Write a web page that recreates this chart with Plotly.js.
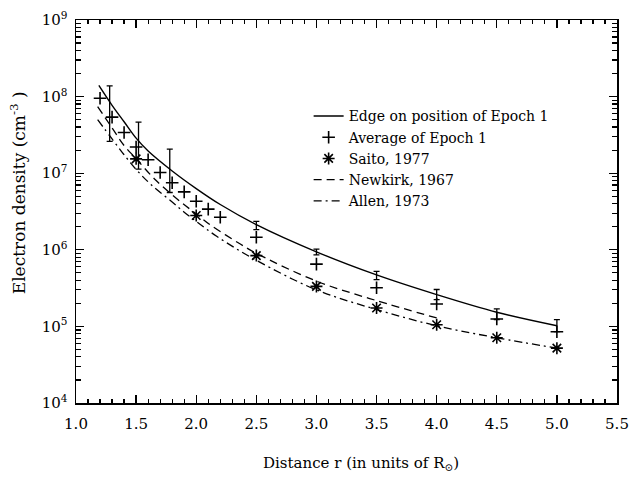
<!DOCTYPE html>
<html>
<head>
<meta charset="utf-8">
<script src="https://cdn.plot.ly/plotly-3.0.1.min.js"></script>
<style>html,body{margin:0;padding:0;background:#fff;}#chart{width:629px;height:478px;}</style>
</head>
<body>
<div id="chart"></div>
<script>
// Edge-on curve (solid line)
const rEdge = [1.19, 1.3, 1.4, 1.5, 1.6, 1.8, 2.0, 2.2, 2.5, 3.0, 3.5, 4.0, 4.5, 5.0];
const edgeDensity = [1.4e8, 7.7e7, 4.7e7, 2.87e7, 1.95e7, 1.07e7, 6.3e6, 3.9e6, 2.13e6, 9.4e5, 4.7e5, 2.6e5, 1.53e5, 1.02e5];
// Error bars on edge-on values
const rErr = [1.28, 1.52, 1.78, 2.5, 3.0, 3.5, 4.0, 4.5, 5.0];
const errCenter = [8.2e7, 2.88e7, 1.31e7, 2.09e6, 9.4e5, 4.65e5, 2.63e5, 1.46e5, 1.04e5];
const errSize = [5.6e7, 1.75e7, 7.5e6, 2.6e5, 8e4, 5.8e4, 4e4, 2.3e4, 1.85e4];
// Average of Epoch 1 (+)
const rAvg = [1.2, 1.3, 1.4, 1.5, 1.6, 1.7, 1.8, 1.9, 2.0, 2.1, 2.2, 2.5, 3.0, 3.5, 4.0, 4.5, 5.0];
const avgDensity = [9.5e7, 5.4e7, 3.4e7, 2.2e7, 1.5e7, 1.02e7, 7.5e6, 5.7e6, 4.3e6, 3.4e6, 2.66e6, 1.46e6, 6.5e5, 3.2e5, 1.96e5, 1.25e5, 8.5e4];
// Saito, 1977 (*)
const rSaito = [1.5, 2.0, 2.5, 3.0, 3.5, 4.0, 4.5, 5.0];
const saitoDensity = [1.54e7, 2.8e6, 8.4e5, 3.33e5, 1.74e5, 1.05e5, 7.1e4, 5.2e4];
// Newkirk, 1967 (dashed)
const rNewkirk = [1.18, 1.3, 1.4, 1.5, 1.66, 1.88, 2.0, 2.12, 2.37, 2.5, 3.0, 3.5, 4.0];
const newkirkDensity = [7.4e7, 3.9e7, 2.3e7, 1.55e7, 8.2e6, 4.1e6, 2.95e6, 2.1e6, 1.18e6, 9.0e5, 3.9e5, 2.17e5, 1.29e5];
// Allen, 1973 (dash-dot)
const rAllen = [1.18, 1.3, 1.4, 1.5, 1.62, 1.8, 1.9, 2.0, 2.17, 2.5, 3.0, 3.5, 4.0, 4.5, 5.0];
const allenDensity = [5.0e7, 2.8e7, 1.74e7, 1.12e7, 7.2e6, 4.2e6, 3.1e6, 2.35e6, 1.5e6, 7.3e5, 3.0e5, 1.66e5, 1.02e5, 7.1e4, 5.2e4];

// y tick values and labels
const yTickVals = [1e4, 1e5, 1e6, 1e7, 1e8, 1e9];
const yTickText = ['10<sup>4</sup>', '10<sup>5</sup>', '10<sup>6</sup>', '10<sup>7</sup>', '10<sup>8</sup>', '10<sup>9</sup>'];
// minor tick positions on the log axis (2..9 times each decade)
const yMinorTicks = [];
for (let e = 4; e < 9; e++) for (let m = 2; m <= 9; m++) yMinorTicks.push(m * Math.pow(10, e));

const FONT = 'DejaVu Serif, serif';

const traces = [
  {x: rEdge, y: edgeDensity, mode: 'lines', name: 'Edge on position of Epoch 1',
   line: {color: '#000', width: 1.4, shape: 'spline'}},
  {x: rAvg, y: avgDensity, mode: 'markers', name: 'Average of Epoch 1',
   marker: {symbol: 'cross-thin-open', size: 9, color: '#000', line: {color: '#000', width: 1.6}}},
  {x: rSaito, y: saitoDensity, mode: 'markers', name: 'Saito, 1977',
   marker: {symbol: 'asterisk-open', size: 10, color: '#000', line: {color: '#000', width: 1.6}}},
  {x: rNewkirk, y: newkirkDensity, mode: 'lines', name: 'Newkirk, 1967',
   line: {color: '#000', width: 1.3, dash: '8px,5px', shape: 'spline'}},
  {x: rAllen, y: allenDensity, mode: 'lines', name: 'Allen, 1973',
   line: {color: '#000', width: 1.3, dash: '8px,4px,2px,4px', shape: 'spline'}},
  {x: rErr, y: errCenter, mode: 'markers', showlegend: false, hoverinfo: 'skip',
   marker: {size: 1, color: 'rgba(0,0,0,0)'},
   error_y: {type: 'data', array: errSize, visible: true, color: '#000', thickness: 1.3, width: 3}}
];

const layout = {
  width: 629, height: 478,
  margin: {l: 76, r: 12, t: 20, b: 75},
  paper_bgcolor: '#fff', plot_bgcolor: '#fff',
  font: {family: FONT, size: 14, color: '#000'},
  showlegend: true,
  legend: {x: 0.43, y: 0.79, xanchor: 'left', yanchor: 'top', bgcolor: 'rgba(0,0,0,0)',
           font: {family: FONT, size: 14, color: '#000'}, tracegroupgap: 0},
  xaxis: {range: [1.0, 5.5], dtick: 0.5, tick0: 1.0, tickformat: '.1f',
          showgrid: false, zeroline: false, showline: true, linecolor: '#000', linewidth: 1.5,
          mirror: 'ticks', ticks: 'inside', ticklen: 8, tickwidth: 1.3, tickcolor: '#000',
          ticklabelstandoff: 6,
          minor: {tickmode: 'linear', tick0: 1.0, dtick: 0.1, ticks: 'inside', ticklen: 4, tickwidth: 1.2, tickcolor: '#000', showgrid: false},
          tickfont: {family: FONT, size: 15, color: '#000'}},
  yaxis: {type: 'log', range: [4, 9], tickmode: 'array', tickvals: yTickVals, ticktext: yTickText,
          showgrid: false, zeroline: false, showline: true, linecolor: '#000', linewidth: 1.5,
          mirror: 'ticks', ticks: 'inside', ticklen: 8, tickwidth: 1.3, tickcolor: '#000',
          ticklabelstandoff: 4,
          minor: {tickmode: 'array', tickvals: yMinorTicks, ticks: 'inside', ticklen: 5, tickwidth: 1.2, tickcolor: '#000', showgrid: false},
          tickfont: {family: FONT, size: 15, color: '#000'}},
  annotations: [
    {text: 'Distance r (in units of R<sub>⊙</sub>)', xref: 'paper', yref: 'paper', x: 0.5276, y: -0.159,
     xanchor: 'center', yanchor: 'middle', showarrow: false, font: {family: FONT, size: 15, color: '#000'}},
    {text: 'Electron density (cm<sup>-3</sup> )', xref: 'paper', yref: 'paper', x: -0.107, y: 0.548,
     xanchor: 'center', yanchor: 'middle', textangle: -90, showarrow: false, font: {family: FONT, size: 17, color: '#000'}}
  ]
};

Plotly.newPlot('chart', traces, layout, {displayModeBar: false, staticPlot: true});
</script>
</body>
</html>
